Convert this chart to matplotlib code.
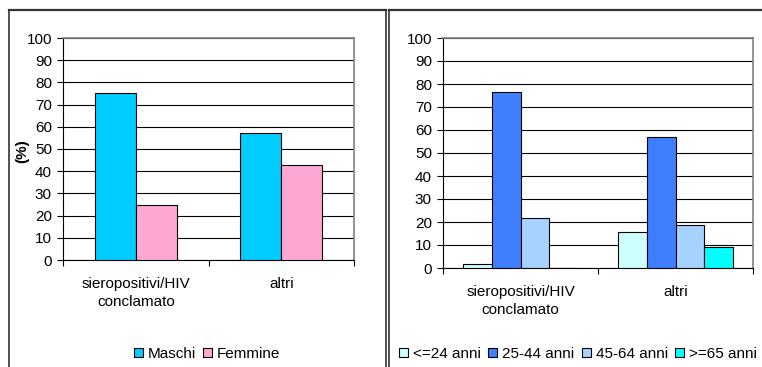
import numpy as np
import matplotlib
matplotlib.use("Agg")
from matplotlib import pyplot as plt
from matplotlib.lines import Line2D

plt.rcParams['font.family'] = ['Liberation Sans', 'DejaVu Sans']

# Data
categories = ['sieropositivi/HIV\nconclamato', 'altri']
sex_labels = ['Maschi', 'Femmine']
sex_values = [[75, 57], [25, 43]]
sex_colors = ['#00CCFF', '#FFA8D4']

age_labels = ['<=24 anni', '25-44 anni', '45-64 anni', '>=65 anni']
age_values = [[1.8, 15.5], [76.5, 57], [21.6, 18.6], [0, 9.2]]
age_colors = ['#CCFFFF', '#3F7FFF', '#A6D2FF', '#00FFFF']

FS = 11
W, H = 762, 367
fig = plt.figure(figsize=(W / 100, H / 100), dpi=100)


def px_axes(x0, y0, x1, y1):
    return fig.add_axes([x0 / W, 1 - y1 / H, (x1 - x0) / W, (y1 - y0) / H])


def style_axes(ax):
    ax.set_xlim(-0.5, 1.5)
    ax.set_ylim(0, 100)
    ax.set_yticks(np.arange(0, 101, 10))
    ax.yaxis.grid(True, color='black', linewidth=0.8)
    ax.set_axisbelow(True)
    for s in ['top', 'right']:
        ax.spines[s].set_color('#808080')
        ax.spines[s].set_linewidth(1.2)
    ax.spines['left'].set_color('black')
    ax.spines['bottom'].set_color('black')
    ax.tick_params(axis='y', direction='out', length=4, labelsize=FS, pad=4)
    ax.set_xticks([-0.5, 0.5, 1.5])
    ax.set_xticklabels([])
    ax.tick_params(axis='x', which='major', direction='out', length=4)
    ax.set_xticks([0, 1], minor=True)
    ax.set_xticklabels(categories, minor=True, fontsize=FS, linespacing=1.35)
    ax.tick_params(axis='x', which='minor', length=0, pad=12)


# left chart: sesso
ax1 = px_axes(63, 38, 354, 260)
x = np.arange(len(categories))
w1 = 0.282
for i, (lab, vals) in enumerate(zip(sex_labels, sex_values)):
    ax1.bar(x + (i - 0.5) * w1, vals, w1, color=sex_colors[i],
            edgecolor='black', linewidth=0.8, label=lab, zorder=3)
style_axes(ax1)
ax1.set_ylabel('(%)', fontsize=FS, fontweight='bold')
ax1.yaxis.set_label_coords((29 - 63) / 291, 0.49)
h1, l1 = ax1.get_legend_handles_labels()
fig.legend(h1, l1, loc='center', bbox_to_anchor=(207 / W, 1 - 354 / H), ncol=2,
           frameon=False, fontsize=FS, handlelength=0.6, handleheight=0.6,
           handletextpad=0.3, columnspacing=0.5, borderpad=0)

# right chart: classi di eta
ax2 = px_axes(443, 38, 753, 268)
w2 = 0.184
for i, (lab, vals) in enumerate(zip(age_labels, age_values)):
    ax2.bar(x + (i - 1.5) * w2, vals, w2, color=age_colors[i],
            edgecolor='black', linewidth=0.8, label=lab, zorder=3)
style_axes(ax2)
h2, l2 = ax2.get_legend_handles_labels()
fig.legend(h2, l2, loc='center', bbox_to_anchor=(578 / W, 1 - 354 / H), ncol=4,
           frameon=False, fontsize=FS, handlelength=0.6, handleheight=0.6,
           handletextpad=0.3, columnspacing=0.5, borderpad=0)

# panel borders
def fig_line(xs, ys, lw=1.2):
    fig.add_artist(Line2D([v / W for v in xs], [1 - v / H for v in ys],
                          color='#333333', linewidth=lw))

fig_line([9, 9], [10, 370])
fig_line([9, 386], [10, 10], lw=1.6)
fig_line([386, 386], [10, 370])
fig_line([389, 389], [10, 370])
fig_line([389, 765], [10, 10], lw=1.6)

fig.savefig('out.png', dpi=100)
